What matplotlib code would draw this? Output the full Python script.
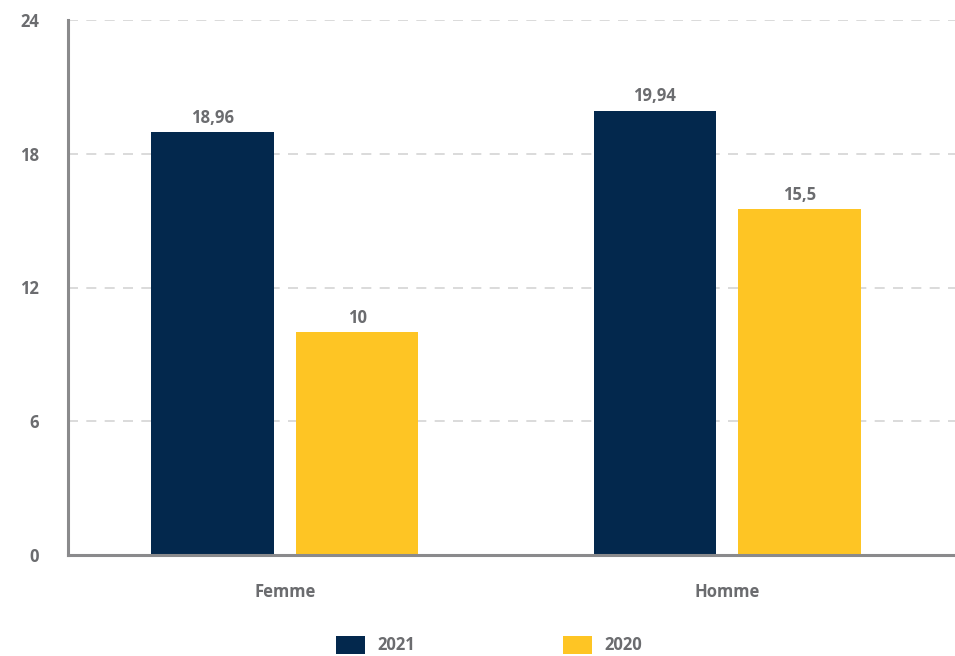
import matplotlib.pyplot as plt
import numpy as np

plt.rcParams["font.family"] = ["Open Sans", "DejaVu Sans"]

categories = ["Femme", "Homme"]
series_names = ["2021", "2020"]
values_2021 = [18.96, 19.94]
values_2020 = [10, 15.5]
labels_2021 = ["18,96", "19,94"]
labels_2020 = ["10", "15,5"]
yticks = [0, 6, 12, 18, 24]

NAVY = "#03284d"
YELLOW = "#fec524"
TEXT = "#6b6c6f"
AXIS = "#8a8a8c"


def main():
    fig = plt.figure(figsize=(9.55, 6.56), dpi=100)
    ax = fig.add_axes([68 / 955, 101 / 656, 887 / 955, 535 / 656])

    x = np.arange(len(categories))
    w = 0.277
    off = 0.1635
    b1 = ax.bar(x - off, values_2021, w, color=NAVY, label=series_names[0], zorder=3)
    b2 = ax.bar(x + off, values_2020, w, color=YELLOW, label=series_names[1], zorder=3)

    for bars, labs in ((b1, labels_2021), (b2, labels_2020)):
        for rect, lab in zip(bars, labs):
            ax.annotate(lab, (rect.get_x() + rect.get_width() / 2, rect.get_height()),
                        xytext=(0, 4), textcoords="offset points", ha="center", va="bottom",
                        fontsize=12, fontweight="bold", color=TEXT)

    ax.set_xlim(-0.49, 1.515)
    ax.set_ylim(0, 24)
    ax.set_yticks(yticks)
    ax.set_yticklabels([str(v) for v in yticks])
    ax.set_xticks(x)
    ax.set_xticklabels(categories)
    ax.tick_params(axis="both", length=0, labelsize=12, labelcolor=TEXT)
    ax.tick_params(axis="y", pad=21)
    ax.tick_params(axis="x", pad=20)
    for lab in ax.get_xticklabels() + ax.get_yticklabels():
        lab.set_fontweight("bold")

    ax.grid(True, axis="y", color="#d4d4d4", linestyle=(0, (6, 5)), linewidth=1.2, zorder=0)
    for side in ("top", "right"):
        ax.spines[side].set_visible(False)
    for side in ("left", "bottom"):
        ax.spines[side].set_color(AXIS)
        ax.spines[side].set_linewidth(2.2)
        ax.spines[side].set_zorder(4)

    leg = fig.legend(loc="center", bbox_to_anchor=(0.512, 11 / 656), ncol=2, frameon=False,
                     handlelength=1.75, handleheight=1.3, handletextpad=0.7,
                     columnspacing=8.9, fontsize=12)
    for t in leg.get_texts():
        t.set_color(TEXT)
        t.set_fontweight("bold")

    fig.savefig("out.png")
    plt.close(fig)


if __name__ == "__main__":
    main()
